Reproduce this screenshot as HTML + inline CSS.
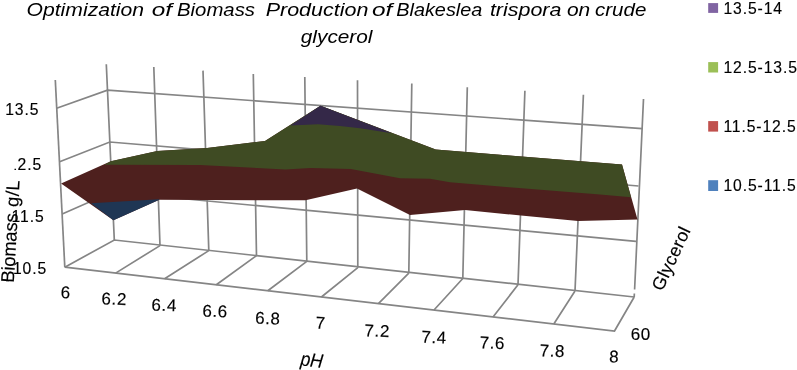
<!DOCTYPE html>
<html>
<head>
<meta charset="utf-8">
<title>Optimization of Biomass Production</title>
<style>
html,body{margin:0;padding:0;background:#fff;}
body{width:797px;height:370px;overflow:hidden;position:relative;}
svg{position:absolute;left:0;top:0;display:block;filter:blur(0.35px);}
text{font-family:"Liberation Sans",sans-serif;fill:#000;stroke:#000;stroke-width:0.15px;}
.g{stroke:#858585;stroke-width:1.7;fill:none;stroke-linecap:butt;}
.x{font-size:17px;letter-spacing:0.6px;}
.l{font-size:15.7px;letter-spacing:0.9px;}
.y{font-size:15.7px;letter-spacing:0.9px;}
.ti{font-size:18.2px;font-style:italic;}
.ti text{stroke:none;}
</style>
</head>
<body>
<svg width="797" height="370" viewBox="0 0 797 370">
<rect x="0" y="0" width="797" height="370" fill="#ffffff"/>

<!-- title -->
<g class="ti">
<text x="26.5" y="15.5" textLength="117.6" lengthAdjust="spacingAndGlyphs">Optimization</text>
<text x="151.7" y="15.5" textLength="20.3" lengthAdjust="spacingAndGlyphs">of</text>
<text x="177" y="15.5" textLength="78" lengthAdjust="spacingAndGlyphs">Biomass</text>
<text x="265.7" y="15.5" textLength="102.7" lengthAdjust="spacingAndGlyphs">Production</text>
<text x="372" y="15.5" textLength="20.3" lengthAdjust="spacingAndGlyphs">of</text>
<text x="396.3" y="15.5" textLength="86" lengthAdjust="spacingAndGlyphs">Blakeslea</text>
<text x="489.9" y="15.5" textLength="71.5" lengthAdjust="spacingAndGlyphs">trispora</text>
<text x="566.9" y="15.5" textLength="23.3" lengthAdjust="spacingAndGlyphs">on</text>
<text x="595" y="15.5" textLength="51.3" lengthAdjust="spacingAndGlyphs">crude</text>
<text x="300.8" y="42.5" textLength="71.7" lengthAdjust="spacingAndGlyphs">glycerol</text>
</g>

<!-- walls / grid -->
<g class="g">
<path d="M106.3 64.3L114.3 240M153.8 67L160 245.6M203 70.6L208.8 250.6M253.3 73.9L256.5 255.6M304.8 77.1L306.8 261.4M357.5 80.2L357.8 267.7M411.8 83.4L408.8 273.2M467.3 87.2L462.8 278.5M524.9 90.7L518 284.8M583.4 94.7L575 291M643.5 99L634.6 289.5M634.35 293.5L634.2 297"/>
<path d="M55.3 80L64.8 267.2"/>
<path d="M56.6 108.3L107.5 90.2L642.2 128.6"/>
<path d="M59.6 161.8L109.8 142L638.5 186"/>
<path d="M62.2 214L112.1 192L636 241.3"/>
<path d="M64.8 267.2L114.3 240L634.2 297"/>
<path d="M64.8 267.2L614.5 331L634.2 297"/>
<path d="M160 245.6L115.6 273.1M208.8 250.6L164.6 278.8M256.5 255.6L216.3 284.8M306.8 261.4L267.8 290.7M357.8 267.7L321.4 297M408.8 273.2L378.4 303.6M462.8 278.5L434 310M518 284.8L493 317M575 291L553.8 324"/>
</g>

<!-- surface -->
<g stroke="none">
<polygon fill="#4e201e" points="61.1,183.5 110.8,161.2 157.3,151 207,148 265,141 320.5,105.7 435.7,149.5 497,154.5 559,159.5 622,164.4 637.5,219.4 578,221 521,215.6 465,209.9 410,215 357,188.4 305.5,200.3 256,200.3 207,199.9 159.3,199.8 113.4,220.2"/>
<polygon fill="#3f4b23" points="104.3,165.1 110.8,161.2 157.3,151 207,148 265,141 320.5,105.7 435.7,149.5 497,154.5 559,159.5 622,164.4 631,197.2 600,194.6 450,182.3 430,178.8 400,178.3 350.8,169 310.5,168 285.4,169.6 200,165 110,164.7"/>
<polygon fill="#342848" points="290.5,125.4 320.5,105.7 391.9,133.2 360,128.2 340,126 318,124.2"/>
<polygon fill="#1f3654" points="91,203.3 113.4,220.2 159.3,199.8 159.3,199.2"/>
</g>

<!-- y axis labels -->
<text class="y" x="5.2" y="114.9">13.5</text>
<text class="y" x="8.0" y="169.7">12.5</text>
<rect x="0" y="150" width="14.5" height="25" fill="#fff"/>
<text class="y" x="11.6" y="222.0">11.5</text>
<text class="y" x="13.0" y="273.8">10.5</text>

<!-- axis title Biomass g/L -->
<g font-size="18.5" transform="translate(13.8,283.0) rotate(-86.7)">
<text x="0" y="0" textLength="69.5" lengthAdjust="spacing">Biomass</text>
<text x="76" y="0" textLength="26.5" lengthAdjust="spacing">g/L</text>
</g>

<!-- x axis labels -->
<g class="x">
<text transform="translate(60.4,298.0) rotate(2.2)">6</text>
<text transform="translate(101.3,304.2) rotate(2.2)">6.2</text>
<text transform="translate(151.3,310.4) rotate(2.2)">6.4</text>
<text transform="translate(202.2,316.4) rotate(2.2)">6.6</text>
<text transform="translate(254.9,323.6) rotate(2.2)">6.8</text>
<text transform="translate(315.4,328.6) rotate(2.2)">7</text>
<text transform="translate(364.3,336.2) rotate(2.2)">7.2</text>
<text transform="translate(421.2,342.6) rotate(2.2)">7.4</text>
<text transform="translate(479.5,348.2) rotate(2.2)">7.6</text>
<text transform="translate(539.4,356.2) rotate(2.2)">7.8</text>
<text transform="translate(608.9,362.3) rotate(2.2)">8</text>
<text x="630.7" y="339.5">60</text>
</g>

<!-- pH -->
<text font-size="19.5" font-style="italic" transform="translate(299.9,365.3) rotate(6.6) scale(0.9,1)">pH</text>

<!-- Glycerol -->
<text font-size="18" letter-spacing="0.3" transform="translate(662.2,292.0) rotate(-65)">Glycerol</text>

<!-- legend -->
<rect x="708.2" y="3.1" width="9.9" height="9.8" fill="#8064a2"/>
<text class="l" x="723.4" y="13.6">13.5-14</text>
<rect x="708.2" y="62.1" width="9.9" height="10.4" fill="#9bbf57"/>
<text class="l" x="723.4" y="73.0">12.5-13.5</text>
<rect x="708.2" y="121.1" width="9.9" height="10.5" fill="#c0504d"/>
<text class="l" x="723.4" y="132.0">11.5-12.5</text>
<rect x="708.2" y="180.2" width="9.9" height="10.8" fill="#4f81bd"/>
<text class="l" x="723.4" y="191.3">10.5-11.5</text>
</svg>
</body>
</html>
